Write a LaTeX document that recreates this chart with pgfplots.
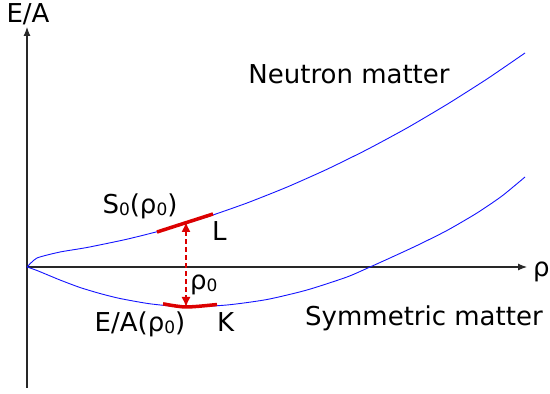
\documentclass[border=0pt]{standalone}
\usepackage{fontspec}
\setmainfont{DejaVu Sans}
\usepackage{pgfplots}
\pgfplotsset{compat=1.18}
\usetikzlibrary{arrows.meta}

\definecolor{curveblue}{RGB}{20,20,255}
\definecolor{markred}{RGB}{220,0,0}
\definecolor{axisgray}{RGB}{40,40,40}

\newcommand{\sub}[1]{\raisebox{-2pt}{\fontsize{17}{17}\selectfont #1}}

\begin{document}
\begin{tikzpicture}
\useasboundingbox (-27pt,-6pt) rectangle (523pt,388pt);
\begin{axis}[
  scale only axis,
  width=500pt, height=361pt,
  xmin=0, xmax=500,
  ymin=-121, ymax=240,
  axis lines=middle,
  axis line style={draw=axisgray, line width=1.1pt, -{Latex[length=9pt,width=7pt]}},
  xtick=\empty, ytick=\empty,
  clip=false,
  font=\fontsize{26}{30}\selectfont,
]
% neutron matter
\addplot [curveblue, line width=0.9pt, smooth, tension=0.35] coordinates {
(0,0) (10,9) (33,15) (60,19.5) (100,27.8) (140,37.9) (180,50.0) (220,64.0) (260,79.9)
(300,97.7) (340,117.4) (380,139.0) (420,162.6) (460,188.0) (498,214)
};
% symmetric matter
\addplot [curveblue, line width=0.9pt, smooth, tension=0.4] coordinates {
(0,0) (10,-3.5) (33,-13) (53,-20.5) (73,-26.5) (93,-31.5) (123,-36.8) (158,-40)
(200,-38) (240,-32.5) (280,-23) (320,-10) (343,0) (363,9) (390,21.5) (420,36.5)
(450,54) (475,71) (498,90)
};
% slope L
\addplot [markred, line width=3.5pt] coordinates {(130,35) (186,53)};
% curvature K
\addplot [markred, line width=3.5pt, smooth] coordinates {(136,-36.8) (159,-40) (190,-37.5)};
% density arrow
\addplot [markred, line width=1.4pt, dash pattern=on 5pt off 3pt,
  {Latex[length=10pt,width=9pt]}-{Latex[length=10pt,width=9pt]}] coordinates {(159,45) (159,-40)};

\node[anchor=base] at (axis cs:1,244) {E/A};
\node[anchor=base west, inner sep=0pt] at (axis cs:506,-10) {ρ};
\node[anchor=base] at (axis cs:322,183) {Neutron matter};
\node[anchor=base] at (axis cs:397,-59) {Symmetric matter};
\node[anchor=base] at (axis cs:113,53) {S\sub{0}(ρ\sub{0})};
\node[anchor=base west, inner sep=0pt] at (axis cs:185,26) {L};
\node[anchor=base west, inner sep=0pt] at (axis cs:163,-23) {ρ\sub{0}};
\node[anchor=base] at (axis cs:113,-65) {E/A(ρ\sub{0})};
\node[anchor=base west, inner sep=0pt] at (axis cs:190,-65) {K};
\end{axis}
\end{tikzpicture}
\end{document}
